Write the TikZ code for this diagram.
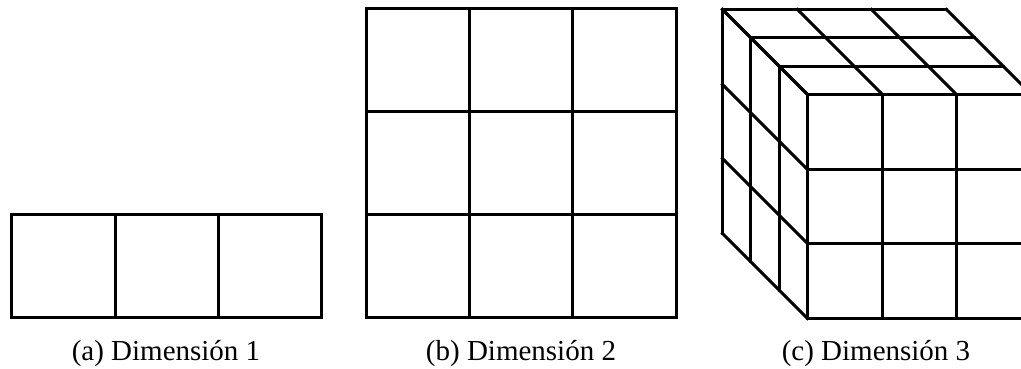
\documentclass[tikz,border=0pt]{standalone}
\usepackage{fontspec}
\setmainfont{Liberation Serif}
\begin{document}
\begin{tikzpicture}[x=1pt,y=-1pt,
  gridline/.style={line width=3pt,line join=miter,line cap=rect},
  caption/.style={font=\fontsize{29}{34}\selectfont,inner sep=0pt,anchor=base}]
\useasboundingbox (0,0) rectangle (1021,368);
\clip (0,0) rectangle (1021,368);
% (a) one dimension
\draw[gridline] (11.5,214.5) rectangle (321.5,317.5);
\draw[gridline] (115.5,214.5) -- (115.5,317.5) (218.5,214.5) -- (218.5,317.5);
% (b) two dimensions
\draw[gridline] (366.5,8.5) rectangle (676.5,317.5);
\foreach \v in {469.5,572.5} {
  \draw[gridline] (\v,8.5) -- (\v,317.5);
}
\foreach \v in {111.5,214.5} {
  \draw[gridline] (366.5,\v) -- (676.5,\v);
}
% (c) three dimensions
\foreach \o in {0,28,57,85} {
  % top face horizontal lines
  \draw[gridline] ({807.5-\o},{94.5-\o}) -- ({1031.5-\o},{94.5-\o});
  % left face vertical lines
  \draw[gridline] ({807.5-\o},{94.5-\o}) -- ({807.5-\o},{318.5-\o});
}
\foreach \c in {807.5,882.5,956.5,1031.5} {
  % top face depth lines
  \draw[gridline] (\c,94.5) -- ({\c-85},9.5);
  % front face columns
  \draw[gridline] (\c,94.5) -- (\c,318.5);
}
\foreach \r in {94.5,169.5,243.5,318.5} {
  % left face depth lines
  \draw[gridline] (807.5,\r) -- (722.5,{\r-85});
  % front face rows
  \draw[gridline] (807.5,\r) -- (1031.5,\r);
}
% captions
\node[caption] (capa) at (166,360) {(a) Dimensión 1};
\node[caption] (capb) at (521,360) {(b) Dimensión 2};
\node[caption] (capc) at (876,360) {(c) Dimensión 3};
\end{tikzpicture}
\end{document}
